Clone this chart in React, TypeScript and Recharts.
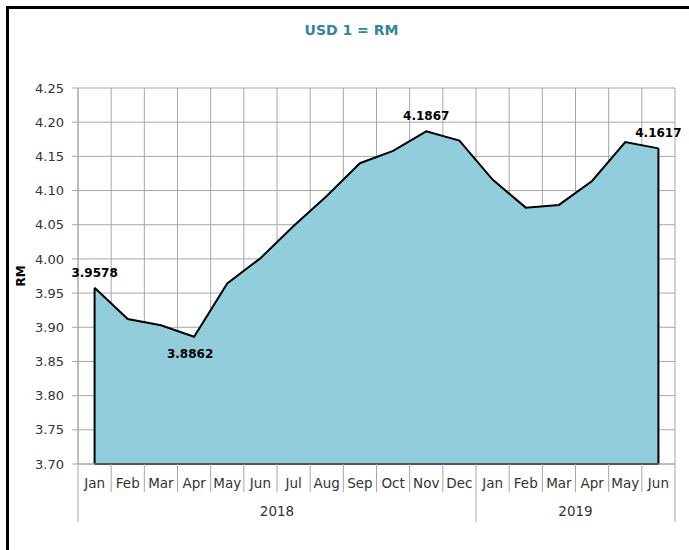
import React from 'react';
import {
  AreaChart,
  Area,
  XAxis,
  YAxis,
  CartesianGrid,
  ReferenceLine,
  LabelList,
} from 'recharts';

const months = ['Jan', 'Feb', 'Mar', 'Apr', 'May', 'Jun', 'Jul', 'Aug', 'Sep', 'Oct', 'Nov', 'Dec', 'Jan', 'Feb', 'Mar', 'Apr', 'May', 'Jun'];
const years = ['2018', '2018', '2018', '2018', '2018', '2018', '2018', '2018', '2018', '2018', '2018', '2018', '2019', '2019', '2019', '2019', '2019', '2019'];
const rates = [3.9578, 3.912, 3.903, 3.8862, 3.964, 4.001, 4.048, 4.092, 4.14, 4.158, 4.1867, 4.173, 4.116, 4.075, 4.079, 4.114, 4.171, 4.1617];
const labelPlacement = ['top', '', '', 'bottom', '', '', '', '', '', '', 'top', '', '', '', '', '', '', 'top'];
const yTicks = [3.7, 3.75, 3.8, 3.85, 3.9, 3.95, 4.0, 4.05, 4.1, 4.15, 4.2, 4.25];

const data = months.map((m, i) => ({ idx: i, month: m, year: years[i], rate: rates[i] }));
const xTicks = data.map((d) => d.idx);

const W = 689;
const H = 550;
const MARGIN = { top: 88, right: 14, left: 28, bottom: 26 };
const Y_AXIS_W = 50;
const X_AXIS_H = 60;
const PLOT_W = W - MARGIN.left - MARGIN.right - Y_AXIS_W;
const BAND = PLOT_W / data.length;
const FONT = '"DejaVu Sans", Verdana, sans-serif';
const GRID = '#a6a6a6';

const MonthTick = (props: any) => {
  const { x, y, payload } = props;
  const i = payload.value as number;
  const d = data[i];
  if (!d) return null;
  const isYearEnd = i === data.length - 1 || data[i + 1].year !== d.year;
  const isYearStart = i === 0 || data[i - 1].year !== d.year;
  const count = data.filter((e) => e.year === d.year).length;
  const left = x - BAND / 2;
  const right = x + BAND / 2;
  return (
    <g>
      <text x={x} y={y + 24} textAnchor="middle" fontSize={13.5} fill="#333" fontFamily={FONT}>
        {d.month}
      </text>
      {i === 0 && <line x1={left} x2={left} y1={y} y2={y + 58} stroke={GRID} strokeWidth={1} />}
      <line x1={right} x2={right} y1={y} y2={isYearEnd ? y + 58 : y + 28} stroke={GRID} strokeWidth={1} />
      {isYearStart && (
        <text x={left + (count * BAND) / 2} y={y + 52} textAnchor="middle" fontSize={13.5} fill="#333" fontFamily={FONT}>
          {d.year}
        </text>
      )}
    </g>
  );
};

const PointLabel = (props: any) => {
  const { x, y, index, value } = props;
  const pos = labelPlacement[index];
  if (!pos) return null;
  return (
    <text
      x={pos === 'bottom' ? x - 4 : x}
      y={pos === 'bottom' ? y + 21 : y - 11}
      textAnchor="middle"
      fontSize={12}
      fontWeight="bold"
      fill="#000"
      fontFamily={FONT}
    >
      {Number(value).toFixed(4)}
    </text>
  );
};

export default function App() {
  const first = data[0];
  const last = data[data.length - 1];
  const yMin = yTicks[0];
  return (
    <div style={{ position: 'absolute', left: 0, top: 0, width: W, height: H, overflow: 'hidden', background: '#fff' }}>
      <div
        style={{
          position: 'absolute',
          left: 6,
          top: 6,
          width: 760,
          height: 640,
          borderLeft: '3px solid #000',
          borderTop: '3px solid #000',
          boxSizing: 'border-box',
        }}
      />
      <div
        style={{
          position: 'absolute',
          left: 0,
          width: W,
          top: 22,
          textAlign: 'center',
          fontFamily: FONT,
          fontWeight: 'bold',
          fontSize: 14,
          color: '#31859C',
          paddingLeft: 14,
          boxSizing: 'border-box',
        }}
      >
        USD 1 = RM
      </div>
      <div style={{ position: 'absolute', left: 0, top: 0 }}>
        <AreaChart width={W} height={H} data={data} margin={MARGIN}>
          <CartesianGrid
            stroke={GRID}
            strokeWidth={1}
            vertical={true}
            horizontal={true}
            verticalCoordinatesGenerator={({ offset }: any) =>
              Array.from({ length: data.length + 1 }, (_, k) => offset.left + (k * offset.width) / data.length)
            }
          />
          <XAxis
            dataKey="idx"
            type="number"
            domain={[-0.5, data.length - 0.5]}
            ticks={xTicks}
            interval={0}
            tickLine={false}
            tickSize={0}
            tickMargin={0}
            height={X_AXIS_H}
            axisLine={{ stroke: GRID }}
            tick={<MonthTick />}
          />
          <YAxis
            domain={[yMin, yTicks[yTicks.length - 1]]}
            ticks={yTicks}
            interval={0}
            width={Y_AXIS_W}
            tickFormatter={(v: number) => v.toFixed(2)}
            tick={{ fontSize: 13, fill: '#333', fontFamily: FONT }}
            tickLine={{ stroke: GRID }}
            tickSize={6}
            tickMargin={8}
            axisLine={{ stroke: GRID }}
            label={{
              value: 'RM',
              angle: -90,
              position: 'insideLeft',
              offset: -7,
              style: { fontSize: 12, fontWeight: 'bold', fill: '#000', fontFamily: FONT, textAnchor: 'middle' },
            }}
          />
          <Area
            type="linear"
            dataKey="rate"
            stroke="#000"
            strokeWidth={2}
            fill="#92CDDC"
            fillOpacity={1}
            baseValue={yMin}
            isAnimationActive={false}
            dot={false}
            activeDot={false}
          >
            <LabelList dataKey="rate" content={<PointLabel />} />
          </Area>
          <ReferenceLine
            segment={[{ x: first.idx, y: yMin }, { x: first.idx, y: first.rate }]}
            stroke="#000"
            strokeWidth={2}
          />
          <ReferenceLine
            segment={[{ x: last.idx, y: yMin }, { x: last.idx, y: last.rate }]}
            stroke="#000"
            strokeWidth={2}
          />
          <ReferenceLine
            segment={[{ x: first.idx, y: yMin }, { x: last.idx, y: yMin }]}
            stroke="#000"
            strokeWidth={2}
          />
        </AreaChart>
      </div>
    </div>
  );
}
